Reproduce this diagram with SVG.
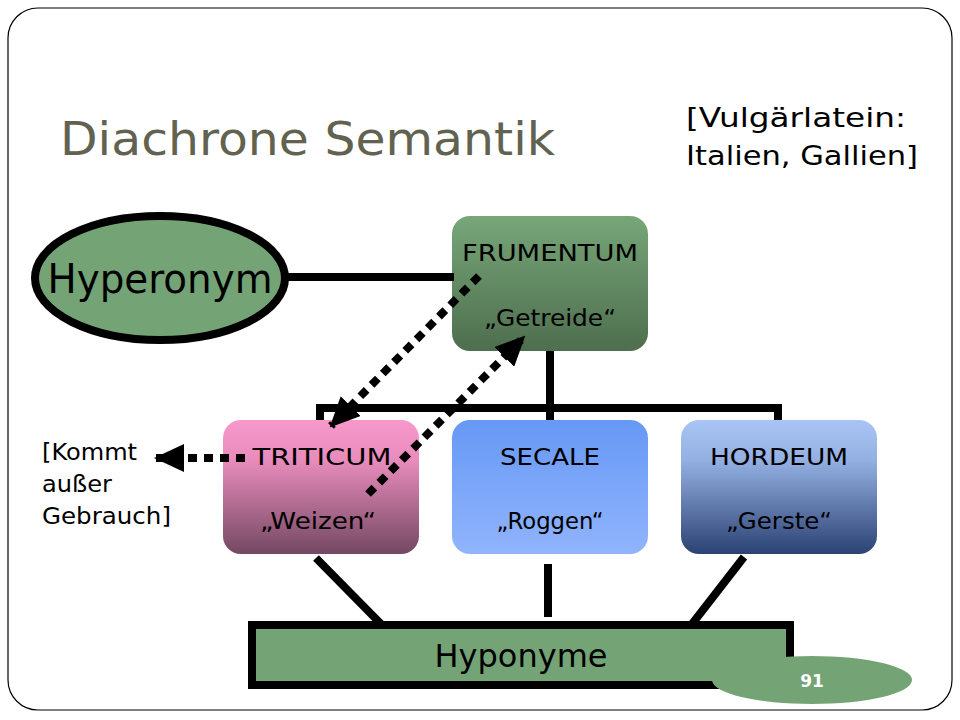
<svg xmlns="http://www.w3.org/2000/svg" width="960" height="720" viewBox="0 0 960 720">
<style>
  text { font-family: "DejaVu Sans", "Open Sans", sans-serif; fill: #000; }
  .lbl { font-size: 23px; text-anchor: middle; }
  .note { font-size: 23px; }
  .solid { stroke: #000; stroke-width: 8; fill: none; }
  .dot { stroke: #000; stroke-width: 8; fill: none; stroke-dasharray: 9 7; }
</style>
<defs>
  <linearGradient id="gGreen" x1="0" y1="0" x2="0" y2="1">
    <stop offset="0" stop-color="#77a678"/>
    <stop offset="1" stop-color="#4e6e4e"/>
  </linearGradient>
  <linearGradient id="gPink" x1="0" y1="0" x2="0" y2="1">
    <stop offset="0" stop-color="#f898cb"/>
    <stop offset="0.3" stop-color="#e88cbc"/>
    <stop offset="1" stop-color="#744862"/>
  </linearGradient>
  <linearGradient id="gBlue" x1="0" y1="0" x2="0" y2="1">
    <stop offset="0" stop-color="#6698f5"/>
    <stop offset="1" stop-color="#91b4fc"/>
  </linearGradient>
  <linearGradient id="gNavy" x1="0" y1="0" x2="0" y2="1">
    <stop offset="0" stop-color="#a9c5f5"/>
    <stop offset="0.3" stop-color="#94b0e2"/>
    <stop offset="1" stop-color="#2b4273"/>
  </linearGradient>
  <marker id="ah" markerUnits="userSpaceOnUse" markerWidth="30" markerHeight="28" viewBox="0 0 30 28" refX="28" refY="14" orient="auto">
    <path d="M0,0 L30,14 L0,28 Z" fill="#000"/>
  </marker>
</defs>

<rect x="8" y="8" width="944" height="702" rx="30" ry="30" fill="#fff" stroke="#000" stroke-width="1.2"/>

<g id="title">
  <text x="60" y="155" style="font-size:47px;fill:#626250" textLength="495" lengthAdjust="spacingAndGlyphs">Diachrone Semantik</text>
</g>
<g id="note-vulgar">
  <text x="686" y="127" style="font-size:27px" textLength="220" lengthAdjust="spacingAndGlyphs">[Vulgärlatein:</text>
  <text x="686" y="165" style="font-size:27px" textLength="232" lengthAdjust="spacingAndGlyphs">Italien, Gallien]</text>
</g>

<g id="hyperonym">
  <ellipse cx="160" cy="278" rx="125" ry="62" fill="#74a476" stroke="#000" stroke-width="8"/>
  <text x="160" y="293" style="font-size:40px;text-anchor:middle" textLength="225" lengthAdjust="spacingAndGlyphs">Hyperonym</text>
</g>

<g id="frumentum">
  <rect x="452" y="216" width="196" height="135" rx="18" fill="url(#gGreen)"/>
  <text class="lbl" x="550" y="261" textLength="176" lengthAdjust="spacingAndGlyphs">FRUMENTUM</text>
  <text class="lbl" x="550" y="326" textLength="132" lengthAdjust="spacingAndGlyphs">„Getreide“</text>
</g>

<g id="triticum">
  <rect x="223" y="420" width="196" height="134" rx="18" fill="url(#gPink)"/>
  <text class="lbl" x="322" y="465" textLength="139" lengthAdjust="spacingAndGlyphs">TRITICUM</text>
  <text class="lbl" x="318" y="529" textLength="116" lengthAdjust="spacingAndGlyphs">„Weizen“</text>
</g>

<g id="secale">
  <rect x="452" y="420" width="196" height="134" rx="18" fill="url(#gBlue)"/>
  <text class="lbl" x="550" y="465" textLength="100" lengthAdjust="spacingAndGlyphs">SECALE</text>
  <text class="lbl" x="550" y="529" textLength="107" lengthAdjust="spacingAndGlyphs">„Roggen“</text>
</g>

<g id="hordeum">
  <rect x="681" y="420" width="196" height="134" rx="18" fill="url(#gNavy)"/>
  <text class="lbl" x="779" y="465" textLength="138" lengthAdjust="spacingAndGlyphs">HORDEUM</text>
  <text class="lbl" x="779" y="529" textLength="106" lengthAdjust="spacingAndGlyphs">„Gerste“</text>
</g>

<g id="note-kommt">
  <text class="note" x="42" y="460" textLength="95" lengthAdjust="spacingAndGlyphs">[Kommt</text>
  <text class="note" x="42" y="492" textLength="70" lengthAdjust="spacingAndGlyphs">außer</text>
  <text class="note" x="42" y="524" textLength="129" lengthAdjust="spacingAndGlyphs">Gebrauch]</text>
</g>

<g id="hyponyme">
  <rect x="252" y="625" width="538" height="60" fill="#74a476" stroke="#000" stroke-width="8"/>
  <text x="521" y="667" style="font-size:32px;text-anchor:middle">Hyponyme</text>
</g>

<g id="pagenum">
  <ellipse cx="812" cy="680" rx="100" ry="24" fill="#74a476"/>
  <text x="812" y="687" style="font-size:17px;font-weight:bold;fill:#fff;text-anchor:middle">91</text>
</g>

<g id="connectors">
  <line class="solid" x1="286" y1="277" x2="454" y2="277"/>
  <line class="solid" x1="550" y1="351" x2="550" y2="420"/>
  <polyline class="solid" points="320,420 320,408 778,408 778,420"/>
  <line class="solid" x1="316" y1="558" x2="381" y2="624"/>
  <line class="solid" x1="548" y1="564" x2="548" y2="617"/>
  <line class="solid" x1="744" y1="557" x2="692" y2="624"/>
  <line class="dot" x1="479" y1="276" x2="331" y2="426" marker-end="url(#ah)"/>
  <line class="dot" x1="368" y1="494" x2="524" y2="337" marker-end="url(#ah)"/>
  <line class="dot" x1="245" y1="458" x2="156" y2="458" marker-end="url(#ah)"/>
</g>
</svg>
